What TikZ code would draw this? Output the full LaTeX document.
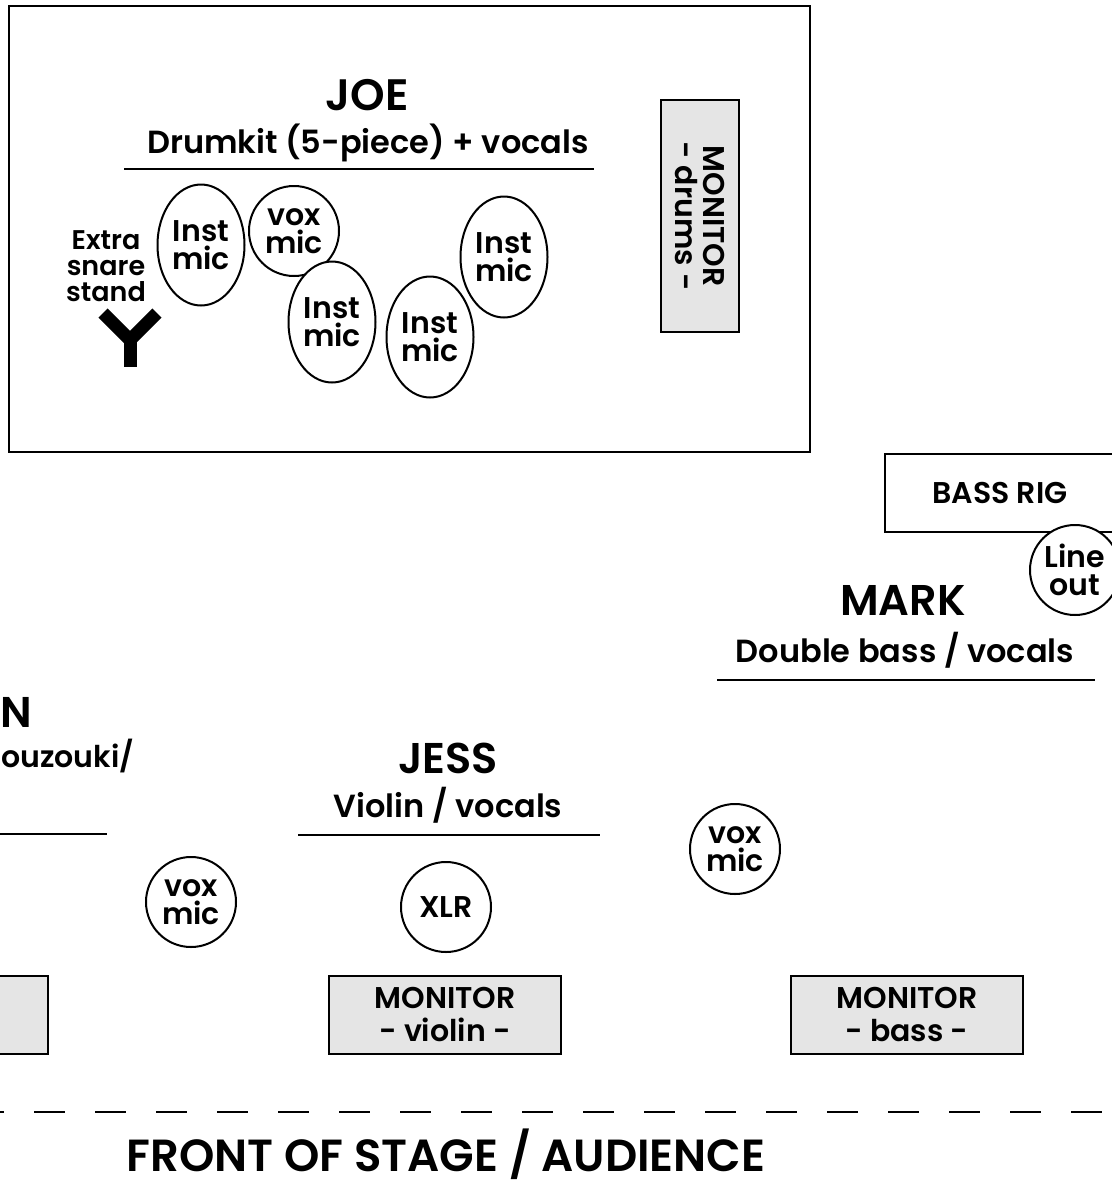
\documentclass[tikz,border=0pt]{standalone}
\usepackage{fontspec}
\setmainfont{Poppins}[UprightFont=* Medium, BoldFont=* SemiBold]
\usetikzlibrary{shapes.geometric, positioning}

\newcommand{\fsz}[2]{\fontsize{#1bp}{#2bp}\selectfont\bfseries}

\begin{document}
\begin{tikzpicture}[
    x=1bp, y=-1bp,
    player/.style={font=\fsz{43}{46}, inner sep=0pt},
    instr/.style={font=\fsz{32}{36}, inner sep=0pt},
    inst/.style={ellipse, draw, fill=white, line width=2bp, minimum width=87bp, minimum height=121bp, inner sep=0pt, align=center, font=\fsz{30}{28}},
    vox/.style={circle, draw, fill=white, line width=2bp, minimum size=90bp, inner sep=0pt, align=center, font=\fsz{30}{28}},
    monitor/.style={rectangle, draw, line width=2.5bp, fill=gray!20, minimum width=232bp, minimum height=78bp, align=center, font=\fsz{30}{33}},
    rule/.style={line width=2.5bp}
]
    \useasboundingbox (0,0) rectangle (1112,1188);
    \clip (0,0) rectangle (1112,1188);

    % Drum riser
    \draw[line width=2.5bp] (9,6) rectangle (810,452);
    \node[player, anchor=base, font=\fsz{44}{48}] (joe) at (367,110) {JOE};
    \node[instr, anchor=base] (drumkit) at (368,153) {Drumkit (5-piece) + vocals};
    \draw[rule] (124,169) -- (594,169);
    \node[font=\fsz{27}{26}, align=center, inner sep=0pt] (snare) at (106,266) {Extra\\snare\\stand};
    \draw[line width=13bp] (103,313) -- (130,340) -- (157,313);
    \draw[line width=13bp] (130,336) -- (130,367);
    \node[inst] (kick) at (201,245) {Inst\\mic};
    \node[vox] (joevox) at (294,231) {vox\\mic};
    \node[inst] (snaremic) at (332,322) {Inst\\mic};
    \node[inst] (tom) at (430,337) {Inst\\mic};
    \node[inst] (floortom) at (504,257) {Inst\\mic};
    \node[monitor, rotate=-90, font=\fsz{30}{28}] (drummon) at (700,216) {MONITOR\\- drums -};

    % Bass
    \node[monitor, fill=white, minimum width=230bp] (bassrig) at (1000,493) {BASS RIG};
    \node[vox] (lineout) at (1075,570) {Line\\out};
    \node[player, anchor=base] (mark) at (903,615) {MARK};
    \node[instr, anchor=base] (markrole) at (905,662) {Double bass / vocals};
    \draw[rule] (717,680) -- (1095,680);
    \node[vox] (markvox) at (735,849) {vox\\mic};
    \node[monitor] (bassmon) at (907,1015) {MONITOR\\- bass -};

    % Violin
    \node[player, anchor=base] (jess) at (448,773) {JESS};
    \node[instr, anchor=base] (jessrole) at (448,817) {Violin / vocals};
    \draw[rule] (298,835) -- (600,835);
    \node[vox] (xlr) at (446,907) {XLR};
    \node[monitor] (violinmon) at (445,1015) {MONITOR\\- violin -};

    % Left of stage (cut off)
    \node[player, anchor=base west] (leftname) at (0,727) {N};
    \node[instr, anchor=base west, font=\fsz{30}{34}] (leftrole) at (1,767) {ouzouki/};
    \draw[rule] (0,834) -- (107,834);
    \node[vox] (leftvox) at (191,902) {vox\\mic};
    \node[monitor, anchor=east] (leftmon) at (49,1015) {};

    % Stage edge
    \draw[line width=2.5bp, dash pattern=on 31bp off 30bp] (-27,1112) -- (1120,1112);
    \node[font=\fsz{45}{48}, anchor=base, inner sep=0pt] (front) at (446,1171) {FRONT OF STAGE / AUDIENCE};
\end{tikzpicture}
\end{document}
